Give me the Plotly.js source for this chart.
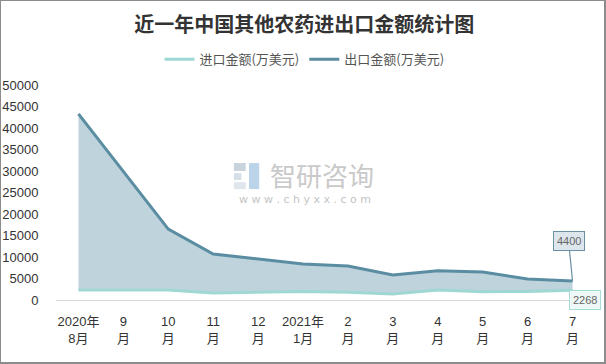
<!DOCTYPE html>
<html><head><meta charset="utf-8">
<script src="https://cdn.plot.ly/plotly-3.0.1.min.js"></script>
<style>html,body{margin:0;padding:0;background:#fff;}#wrap{width:606px;height:364px;box-sizing:border-box;border:1px solid #8c8c8c;border-right-width:2px;border-bottom-width:2px;overflow:hidden;}#chart{width:603px;height:361px;}</style>
</head><body><div id="wrap"><div id="chart"></div></div>
<script>
const categories = ['2020年<br>8月','9<br>月','10<br>月','11<br>月','12<br>月','2021年<br>1月','2<br>月','3<br>月','4<br>月','5<br>月','6<br>月','7<br>月'];
const importValues = [2300, 2300, 2300, 1600, 1800, 2000, 1800, 1400, 2300, 1900, 2000, 2268];
const exportValues = [43300, 30000, 16500, 10700, 9600, 8400, 7900, 5800, 6800, 6500, 4900, 4400];
const seriesNames = ['进口金额(万美元)', '出口金额(万美元)'];
const yTicks = [0,5000,10000,15000,20000,25000,30000,35000,40000,45000,50000];
const titleText = '近一年中国其他农药进出口金额统计图';

const idx = categories.map((c,i)=>i);
const traces = [
  {x: idx, y: importValues, name: seriesNames[0], type:'scatter', mode:'lines',
   line:{color:'#9fd8d3', width:3}, hoverinfo:'skip'},
  {x: idx, y: exportValues, name: seriesNames[1], type:'scatter', mode:'lines', showlegend:false,
   line:{color:'#5a8da2', width:3}, fill:'tonexty', fillcolor:'#bed3dc', hoverinfo:'skip'},
  {x: [null], y: [null], name: seriesNames[1], type:'scatter', mode:'lines',
   line:{color:'#5a8da2', width:3}, hoverinfo:'skip'}
];
const last = idx.length-1;
const layout = {
  width:603, height:361,
  margin:{l:55, r:9, t:84, b:62},
  paper_bgcolor:'#fff', plot_bgcolor:'#fff',
  font:{family:'"Liberation Sans", "Noto Sans CJK SC", sans-serif', color:'#333', size:13},
  title:{text:'<b>'+titleText+'</b>', xref:'container', x:0.503, xanchor:'center', y:0.933, yanchor:'middle',
    font:{family:'"Noto Sans CJK SC", serif', size:20, color:'#333'}},
  showlegend:true,
  legend:{orientation:'h', x:0.461, xanchor:'center', y:1.12, yanchor:'middle',
    font:{family:'"Noto Sans CJK SC", sans-serif', size:13, color:'#555'}, itemwidth:30, traceorder:'normal'},
  xaxis:{type:'linear', range:[-0.5, 11.5], tickmode:'array', tickvals:idx, ticktext:categories,
    showgrid:false, zeroline:false, showline:true, linecolor:'#d9d9d9', linewidth:1,
    ticks:'outside', ticklen:9, tickcolor:'rgba(0,0,0,0)',
    tickfont:{family:'"Liberation Sans", "Noto Sans CJK SC", sans-serif', size:13, color:'#333'}},
  yaxis:{range:[0,50000], tickmode:'array', tickvals:yTicks, ticktext:yTicks.map(String),
    showgrid:false, zeroline:false, showline:false,
    ticks:'outside', ticklen:14, tickcolor:'rgba(0,0,0,0)',
    tickfont:{family:'"Liberation Sans", sans-serif', size:13, color:'#333'}},
  annotations:[
    {x:last, y:exportValues[last], xref:'x', yref:'y', text:String(exportValues[last]),
     showarrow:true, ax:-4, ay:-40, arrowhead:0, arrowwidth:1.2, arrowcolor:'#6a91a4',
     bgcolor:'#dde6ec', bordercolor:'#6a91a4', borderwidth:1, borderpad:3,
     font:{size:11, color:'#666', family:'"Liberation Sans", sans-serif'}},
    {x:last, y:importValues[last], xref:'x', yref:'y', text:String(importValues[last]),
     showarrow:false, xshift:12, yshift:-10,
     bgcolor:'#eef8f7', bordercolor:'#a6dcd6', borderwidth:1, borderpad:3,
     font:{size:11, color:'#666', family:'"Liberation Sans", sans-serif'}},
    {x:0.5, y:0.582, xref:'paper', yref:'paper', text:'智研咨询', showarrow:false, xshift:-4,
     font:{family:'"Noto Sans CJK SC", sans-serif', size:26, color:'#c9c9c9'}},
    {x:0.5, y:0.468, xref:'paper', yref:'paper', text:'w w w . c h y x x . c o m', showarrow:false, xshift:-21,
     font:{family:'"DejaVu Sans", sans-serif', size:11, color:'#c4c4c4'}}
  ],
  shapes:[
    {type:'rect', xref:'paper', yref:'paper', x0:0.330, x1:0.352, y0:0.60, y1:0.637, fillcolor:'#c9d3de', line:{width:0}},
    {type:'rect', xref:'paper', yref:'paper', x0:0.330, x1:0.344, y0:0.558, y1:0.59, fillcolor:'#d6dee8', line:{width:0}},
    {type:'rect', xref:'paper', yref:'paper', x0:0.330, x1:0.352, y0:0.516, y1:0.548, fillcolor:'#dfe6ee', line:{width:0}},
    {type:'rect', xref:'paper', yref:'paper', x0:0.358, x1:0.377, y0:0.516, y1:0.637, fillcolor:'#bcd4ea', line:{width:0}}
  ]
};
Plotly.newPlot('chart', traces, layout, {displayModeBar:false, staticPlot:true});
</script></body></html>
